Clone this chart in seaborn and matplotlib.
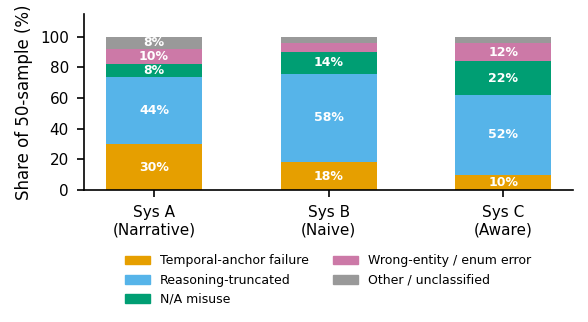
import numpy as np
import pandas as pd
import matplotlib
matplotlib.use("Agg")
import matplotlib.pyplot as plt
import seaborn as sns
from matplotlib.patches import Patch

systems = ["Sys A\n(Narrative)", "Sys B\n(Naive)", "Sys C\n(Aware)"]
categories = ["Temporal-anchor failure", "Reasoning-truncated", "N/A misuse",
              "Wrong-entity / enum error", "Other / unclassified"]
temporal = [30, 18, 10]
reasoning = [44, 58, 52]
na_misuse = [8, 14, 22]
wrong_entity = [10, 6, 12]
other = [8, 4, 4]
colors = ["#E69F00", "#56B4E9", "#009E73", "#CC79A7", "#999999"]

series = [temporal, reasoning, na_misuse, wrong_entity, other]
cum = np.cumsum(np.array(series), axis=0)

fig, ax = plt.subplots(figsize=(5.88, 3.22), dpi=100)

# draw cumulative totals from top down so each layer covers the ones above it
for i in reversed(range(len(categories))):
    df = pd.DataFrame({"system": systems, "value": cum[i]})
    sns.barplot(data=df, x="system", y="value", color=colors[i], width=0.55,
                saturation=1, ax=ax)

for j in range(len(systems)):
    for i in range(len(categories)):
        v = series[i][j]
        if v >= 8:
            mid = cum[i][j] - v / 2
            ax.text(j, mid, f"{v}%", ha="center", va="center", color="white",
                    fontsize=9, fontweight="bold")

ax.set_xlim(-0.4, 2.4)
ax.set_ylim(0, 115)
ax.set_yticks([0, 20, 40, 60, 80, 100])
ax.set_xlabel("")
ax.set_ylabel("Share of 50-sample (%)", fontsize=12, labelpad=5)
ax.tick_params(labelsize=11, length=5, width=1.2, pad=6)
for s in ["left", "bottom"]:
    ax.spines[s].set_linewidth(1.2)
sns.despine(ax=ax)

handles = [Patch(color=c, label=l) for c, l in zip(colors, categories)]
fig.legend(handles=handles, ncol=2, frameon=False, fontsize=9,
           loc="upper center", bbox_to_anchor=(0.558, 0.245),
           handlelength=2.0, columnspacing=2.0)

fig.subplots_adjust(left=0.143, right=0.975, top=0.957, bottom=0.41)
fig.savefig("out.png", dpi=100)
